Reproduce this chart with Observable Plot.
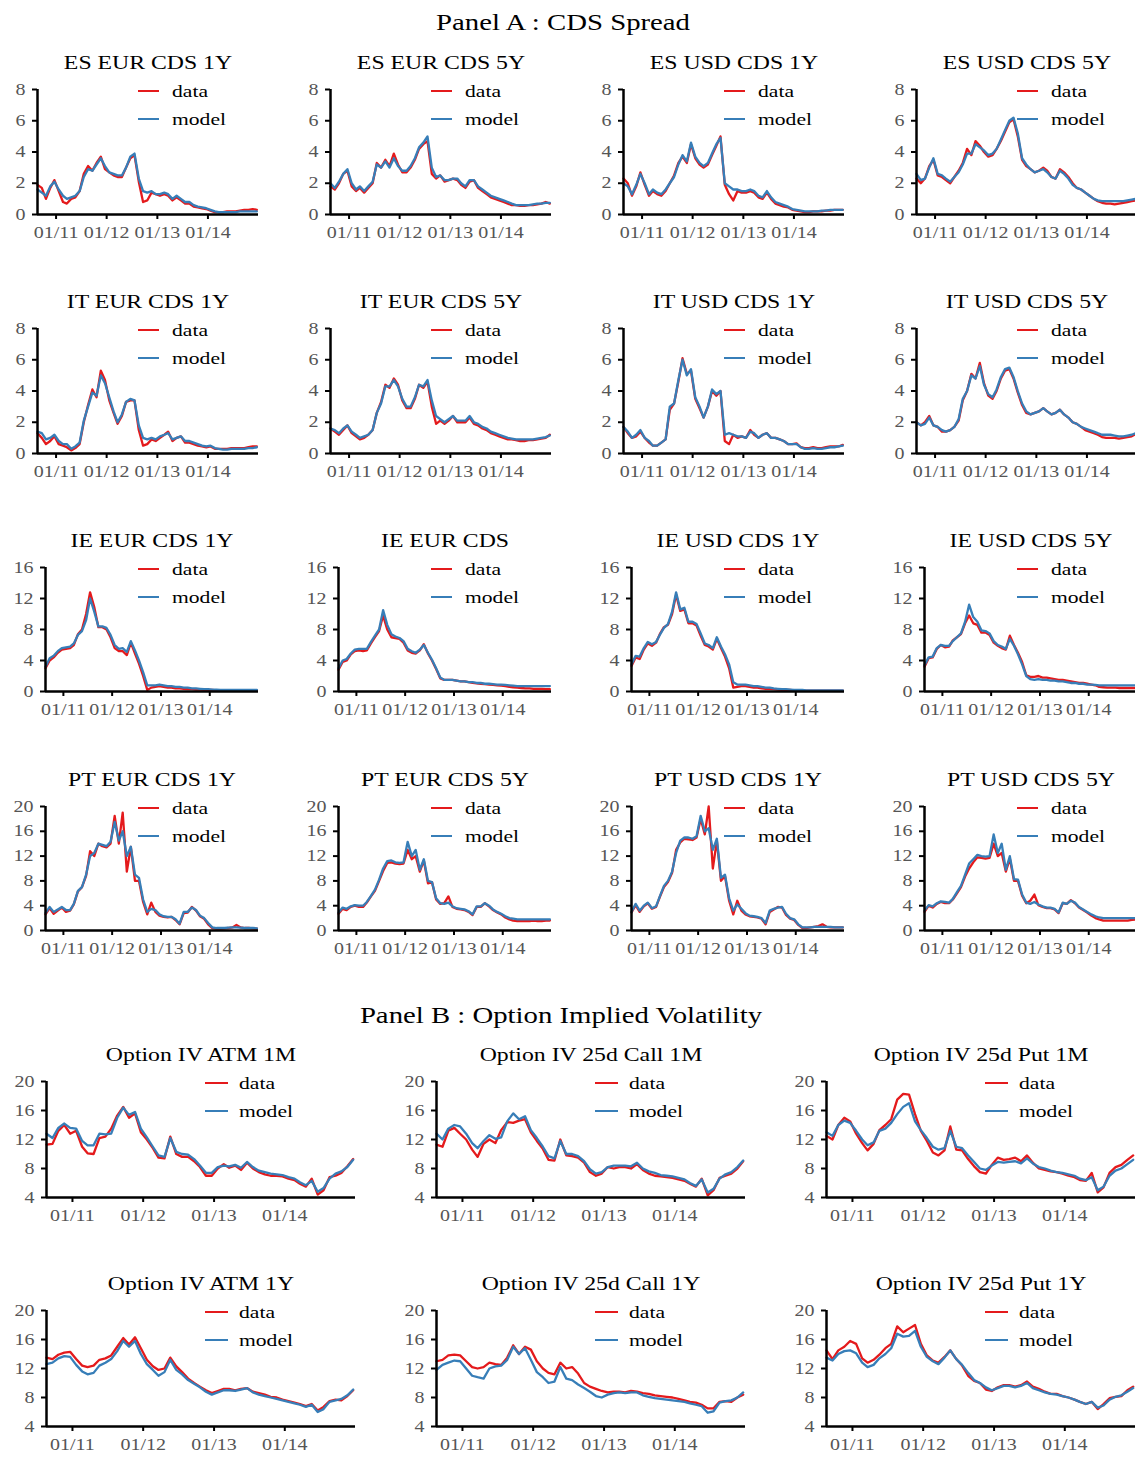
<!DOCTYPE html>
<html>
<head>
<meta charset="utf-8">
<script src="https://cdn.jsdelivr.net/npm/d3@7"></script>
<script src="https://cdn.jsdelivr.net/npm/@observablehq/plot@0.6"></script>
<style>
  body { margin: 0; background: #fff; }
  #fig { position: relative; width: 1135px; height: 1457px; overflow: hidden;
         font-family: "Liberation Serif", "Times New Roman", serif; background: #fff; }
  .t { position: absolute; white-space: nowrap; line-height: 1; color: #000; }
  .seg { position: absolute; height: 2.5px; }
</style>
</head>
<body>
<div id="fig"></div>
<script>
// ---------- categories / labels ----------
const mainTitles = ["Panel A : CDS Spread", "Panel B : Option Implied Volatility"];
const cdsTitles = [
  ["ES EUR CDS 1Y", "ES EUR CDS 5Y", "ES USD CDS 1Y", "ES USD CDS 5Y"],
  ["IT EUR CDS 1Y", "IT EUR CDS 5Y", "IT USD CDS 1Y", "IT USD CDS 5Y"],
  ["IE EUR CDS 1Y", "IE EUR CDS", "IE USD CDS 1Y", "IE USD CDS 5Y"],
  ["PT EUR CDS 1Y", "PT EUR CDS 5Y", "PT USD CDS 1Y", "PT USD CDS 5Y"]
];
const ivTitles = [
  ["Option IV ATM 1M", "Option IV 25d Call 1M", "Option IV 25d Put 1M"],
  ["Option IV ATM 1Y", "Option IV 25d Call 1Y", "Option IV 25d Put 1Y"]
];
const legendLabels = ["data", "model"];
const xTickLabels = ["01/11", "01/12", "01/13", "01/14"];
const xTickYears = [2011, 2012, 2013, 2014];
const cdsYTicks = [[0, 2, 4, 6, 8], [0, 2, 4, 6, 8], [0, 4, 8, 12, 16], [0, 4, 8, 12, 16, 20]];
const ivYTicks = [4, 8, 12, 16, 20];

// monthly observations, Aug-2010 ... Dec-2014 (53 points)
// ---------- Panel A : CDS spreads ----------
const esEur1yData  = [1.9,1.7,1.0,1.7,2.2,1.5,0.8,0.7,1.0,1.1, 1.5,2.6,3.1,2.8,3.3,3.7,2.9,2.7,2.5,2.4, 2.4,3.0,3.6,3.8,2.1,0.8,0.9,1.4,1.3,1.2, 1.3,1.2,0.9,1.1,0.9,0.7,0.7,0.5,0.45,0.4, 0.35,0.25,0.15,0.15,0.15,0.2,0.2,0.2,0.25,0.3, 0.3,0.35,0.3];
const esEur1yModel = [1.6,1.4,1.2,1.8,2.1,1.6,1.2,1.0,1.1,1.2, 1.5,2.4,2.9,2.8,3.2,3.6,3.1,2.7,2.6,2.5, 2.5,3.0,3.7,3.9,2.3,1.5,1.4,1.5,1.3,1.3, 1.4,1.3,1.0,1.2,1.0,0.8,0.8,0.6,0.5,0.45, 0.4,0.3,0.2,0.15,0.15,0.15,0.15,0.15,0.2,0.2, 0.2,0.2,0.2];
const esEur5yData  = [1.8,1.6,2.0,2.6,2.8,1.8,1.5,1.7,1.4,1.7, 2.0,3.3,3.0,3.5,3.1,3.9,3.2,2.7,2.7,3.0, 3.5,4.2,4.5,4.7,2.6,2.3,2.5,2.1,2.2,2.3, 2.2,1.9,1.7,2.1,2.2,1.7,1.5,1.3,1.1,1.0, 0.9,0.8,0.7,0.6,0.6,0.55,0.55,0.6,0.6,0.65, 0.7,0.8,0.7];
const esEur5yModel = [2.0,1.7,2.1,2.6,2.9,2.0,1.6,1.8,1.5,1.8, 2.1,3.2,3.0,3.4,3.0,3.6,3.1,2.8,2.8,3.1, 3.6,4.3,4.6,5.0,3.0,2.4,2.5,2.2,2.2,2.3, 2.3,2.0,1.8,2.2,2.2,1.8,1.6,1.4,1.2,1.1, 1.0,0.9,0.8,0.7,0.6,0.6,0.6,0.6,0.65,0.7, 0.7,0.75,0.75];
const esUsd1yData  = [2.3,2.0,1.2,1.8,2.7,1.9,1.2,1.5,1.3,1.2, 1.5,2.0,2.5,3.3,3.7,3.3,4.5,3.6,3.2,3.0, 3.2,3.8,4.4,5.0,1.9,1.3,0.9,1.5,1.4,1.4, 1.5,1.4,1.1,1.0,1.4,1.0,0.7,0.6,0.5,0.45, 0.3,0.25,0.2,0.15,0.15,0.2,0.2,0.2,0.25,0.25, 0.3,0.3,0.3];
const esUsd1yModel = [2.0,1.8,1.3,1.9,2.6,2.0,1.3,1.6,1.4,1.3, 1.6,2.0,2.4,3.2,3.8,3.4,4.6,3.7,3.3,3.1, 3.3,3.9,4.5,4.9,2.0,1.8,1.6,1.6,1.5,1.5, 1.6,1.5,1.2,1.1,1.5,1.1,0.8,0.7,0.6,0.5, 0.35,0.3,0.25,0.2,0.2,0.2,0.2,0.25,0.25,0.3, 0.3,0.3,0.3];
const esUsd5yData  = [2.3,2.0,2.3,3.1,3.5,2.5,2.4,2.2,2.0,2.4, 2.8,3.3,4.2,3.8,4.7,4.4,4.0,3.7,3.8,4.2, 4.7,5.3,5.9,6.1,5.0,3.5,3.1,2.9,2.7,2.8, 3.0,2.8,2.4,2.3,2.9,2.7,2.4,2.0,1.7,1.6, 1.4,1.2,1.0,0.85,0.75,0.7,0.7,0.65,0.7,0.75, 0.8,0.85,0.9];
const esUsd5yModel = [2.6,2.2,2.3,3.0,3.6,2.6,2.5,2.3,2.1,2.4, 2.7,3.2,3.9,3.9,4.5,4.3,4.1,3.8,3.9,4.2, 4.8,5.4,6.0,6.2,5.2,3.6,3.2,2.9,2.7,2.8, 2.9,2.7,2.4,2.3,2.8,2.6,2.3,1.9,1.7,1.6, 1.4,1.2,1.0,0.9,0.85,0.85,0.85,0.85,0.85,0.85, 0.9,0.95,1.0];

const itEur1yData  = [1.3,1.0,0.6,0.8,1.1,0.6,0.5,0.4,0.2,0.35, 0.6,2.0,3.1,4.1,3.6,5.3,4.7,3.4,2.6,1.9, 2.4,3.3,3.4,3.4,1.5,0.5,0.6,0.9,0.8,1.0, 1.2,1.4,0.8,1.0,1.1,0.7,0.7,0.6,0.5,0.45, 0.4,0.45,0.3,0.3,0.3,0.3,0.35,0.35,0.35,0.35, 0.4,0.45,0.45];
const itEur1yModel = [1.4,1.3,0.9,1.0,1.2,0.8,0.6,0.6,0.3,0.45, 0.7,2.1,3.0,3.9,3.7,5.0,4.5,3.6,2.7,2.0, 2.5,3.3,3.5,3.4,1.8,1.0,0.9,1.0,0.9,1.1, 1.2,1.3,0.9,1.0,1.1,0.8,0.8,0.7,0.6,0.5, 0.45,0.5,0.35,0.3,0.25,0.25,0.3,0.3,0.3,0.3, 0.35,0.35,0.4];
const itEur5yData  = [1.6,1.4,1.2,1.5,1.8,1.3,1.1,0.9,1.0,1.2, 1.5,2.6,3.3,4.4,4.2,4.8,4.4,3.4,2.9,2.9, 3.5,4.4,4.2,4.6,3.0,1.9,2.1,1.9,2.1,2.4, 2.0,2.0,2.0,2.3,1.9,1.8,1.6,1.5,1.3,1.2, 1.1,1.0,0.9,0.9,0.85,0.8,0.8,0.85,0.85,0.9, 0.95,1.0,1.2];
const itEur5yModel = [1.6,1.5,1.3,1.6,1.8,1.4,1.2,1.0,1.1,1.2, 1.5,2.6,3.2,4.3,4.3,4.7,4.3,3.5,3.0,3.0, 3.6,4.4,4.3,4.7,3.4,2.4,2.2,2.0,2.2,2.4, 2.1,2.1,2.1,2.4,2.0,1.9,1.7,1.6,1.4,1.3, 1.2,1.1,1.0,0.95,0.9,0.9,0.9,0.9,0.9,0.95, 1.0,1.05,1.15];
const itUsd1yData  = [1.7,1.3,1.0,1.1,1.4,1.0,0.7,0.5,0.5,0.7, 0.9,2.8,3.2,4.6,6.1,5.1,5.3,3.5,2.9,2.3, 3.0,4.0,3.7,4.0,0.8,0.6,1.2,1.0,1.1,1.0, 1.5,1.2,1.0,1.2,1.3,1.0,1.0,0.9,0.8,0.6, 0.6,0.65,0.4,0.35,0.35,0.4,0.35,0.35,0.4,0.45, 0.45,0.45,0.55];
const itUsd1yModel = [1.7,1.4,1.0,1.2,1.5,1.0,0.8,0.5,0.5,0.7, 0.9,3.0,3.2,4.7,6.0,5.0,5.4,3.6,3.0,2.3, 3.0,4.1,3.8,4.0,1.2,1.3,1.2,1.1,1.1,1.0, 1.4,1.3,1.0,1.2,1.3,1.0,1.0,0.9,0.8,0.6, 0.6,0.6,0.4,0.3,0.3,0.35,0.3,0.3,0.35,0.4, 0.4,0.45,0.5];
const itUsd5yData  = [2.0,1.8,2.0,2.4,1.8,1.7,1.4,1.4,1.5,1.7, 2.1,3.4,4.0,5.1,4.8,5.8,4.5,3.7,3.5,4.0, 4.8,5.3,5.4,4.8,3.9,3.1,2.6,2.5,2.6,2.7, 2.9,2.7,2.5,2.6,2.8,2.5,2.3,2.0,1.9,1.7, 1.5,1.4,1.3,1.2,1.05,1.0,1.0,1.0,0.95,1.0, 1.05,1.1,1.25];
const itUsd5yModel = [2.0,1.8,1.9,2.3,1.8,1.7,1.5,1.4,1.5,1.7, 2.2,3.5,4.0,5.0,4.8,5.6,4.4,3.8,3.6,4.1, 4.9,5.4,5.5,4.9,4.0,3.2,2.7,2.5,2.6,2.7, 2.9,2.7,2.5,2.6,2.8,2.5,2.3,2.0,1.9,1.7, 1.6,1.5,1.4,1.3,1.2,1.2,1.2,1.15,1.1,1.1, 1.15,1.2,1.3];

const ieEur1yData  = [3.0,4.0,4.4,5.0,5.4,5.5,5.6,6.0,7.4,8.0, 10.0,12.8,10.9,8.3,8.3,8.0,7.0,5.6,5.2,5.2, 4.7,6.3,4.9,3.6,2.0,0.2,0.5,0.6,0.7,0.6, 0.5,0.5,0.4,0.4,0.35,0.3,0.3,0.25,0.25,0.2, 0.2,0.2,0.15,0.15,0.15,0.15,0.15,0.15,0.15,0.15, 0.15,0.15,0.15];
const ieEur1yModel = [3.2,4.3,4.6,5.2,5.6,5.7,5.8,6.2,7.3,7.8, 9.2,12.0,10.3,8.4,8.4,8.2,7.3,6.0,5.5,5.6, 5.1,6.5,5.3,4.0,2.5,0.8,0.8,0.8,0.9,0.8, 0.7,0.7,0.6,0.6,0.5,0.5,0.4,0.4,0.35,0.3, 0.3,0.25,0.25,0.2,0.2,0.2,0.2,0.2,0.2,0.2, 0.2,0.2,0.2];
const ieEur5yData  = [2.8,3.8,4.0,4.8,5.2,5.3,5.2,5.3,6.2,7.0, 7.8,9.8,8.0,7.0,6.9,6.8,6.3,5.3,5.0,4.9, 5.3,6.1,4.9,4.0,2.9,1.7,1.5,1.5,1.5,1.4, 1.3,1.3,1.2,1.1,1.05,1.0,0.95,0.9,0.85,0.8, 0.75,0.7,0.6,0.55,0.5,0.45,0.4,0.4,0.35,0.35, 0.35,0.3,0.3];
const ieEur5yModel = [3.0,4.0,4.2,4.9,5.4,5.5,5.5,5.5,6.4,7.2, 8.0,10.5,8.6,7.4,7.1,6.9,6.5,5.5,5.2,5.0, 5.4,6.0,5.0,4.1,3.0,1.8,1.5,1.5,1.5,1.4, 1.3,1.3,1.2,1.2,1.1,1.1,1.0,1.0,0.95,0.9, 0.9,0.85,0.8,0.75,0.7,0.7,0.7,0.7,0.7,0.7, 0.7,0.7,0.7];
const ieUsd1yData  = [3.3,4.4,4.2,5.4,6.2,5.9,6.3,7.4,8.3,8.6, 10.0,12.5,10.4,10.6,8.8,8.8,8.5,7.2,6.0,5.8, 5.4,6.8,5.6,4.5,3.0,0.5,0.6,0.7,0.7,0.6, 0.5,0.5,0.4,0.35,0.35,0.3,0.25,0.2,0.2,0.2, 0.15,0.15,0.15,0.1,0.1,0.1,0.1,0.1,0.1,0.1, 0.1,0.1,0.1];
const ieUsd1yModel = [3.5,4.6,4.5,5.6,6.4,6.1,6.4,7.3,8.2,8.7, 10.3,12.8,10.6,10.8,9.0,9.0,8.7,7.5,6.2,6.0, 5.6,7.0,5.8,4.8,3.5,1.2,0.9,0.9,0.9,0.8, 0.7,0.7,0.6,0.5,0.5,0.4,0.35,0.3,0.3,0.25, 0.2,0.2,0.2,0.15,0.15,0.15,0.15,0.15,0.15,0.15, 0.15,0.15,0.15];
const ieUsd5yData  = [3.2,4.3,4.4,5.5,6.0,5.7,5.8,6.6,7.0,7.4, 8.8,9.8,8.8,8.6,7.6,7.6,7.3,6.3,5.9,5.6, 5.4,7.2,6.0,5.0,3.8,2.1,1.9,1.9,2.0,1.8, 1.8,1.7,1.6,1.5,1.5,1.4,1.3,1.2,1.1,1.1, 1.0,0.9,0.8,0.6,0.55,0.5,0.5,0.5,0.45,0.45, 0.45,0.45,0.45];
const ieUsd5yModel = [3.4,4.4,4.5,5.6,6.0,5.9,5.9,6.5,7.0,7.5, 9.0,11.2,9.6,9.0,7.9,7.8,7.5,6.5,6.0,5.8, 5.5,6.8,5.9,4.8,3.5,2.0,1.6,1.5,1.6,1.5, 1.5,1.4,1.4,1.3,1.3,1.2,1.1,1.1,1.0,1.0, 0.9,0.9,0.85,0.8,0.8,0.8,0.8,0.8,0.8,0.8, 0.8,0.8,0.8];

const ptEur1yData  = [2.6,3.6,2.7,3.2,3.7,3.0,3.2,4.2,6.3,7.0, 8.8,12.8,12.0,14.0,13.6,13.4,14.0,18.5,14.0,19.0, 9.5,13.5,8.0,8.0,4.6,2.6,4.5,3.0,2.4,2.2, 2.1,2.2,1.7,1.0,2.8,2.9,3.8,3.2,2.3,1.9, 1.0,0.4,0.3,0.3,0.35,0.4,0.5,0.9,0.5,0.4, 0.4,0.35,0.3];
const ptEur1yModel = [2.8,3.8,3.0,3.4,3.8,3.3,3.3,4.3,6.4,7.0, 9.0,12.0,12.5,14.0,13.8,13.6,14.3,17.5,14.5,16.0, 12.0,13.5,9.0,8.5,5.0,3.0,3.5,3.3,2.6,2.3, 2.2,2.2,1.8,1.1,3.0,3.0,3.7,3.3,2.4,2.0, 1.2,0.5,0.4,0.4,0.4,0.45,0.5,0.5,0.45,0.4, 0.4,0.4,0.35];
const ptEur5yData  = [2.7,3.5,3.3,3.8,4.0,3.8,3.8,4.5,5.5,6.4, 8.0,9.6,10.9,11.0,10.8,10.7,10.8,13.0,11.5,12.0, 9.5,11.3,7.6,7.8,5.0,4.3,4.4,5.5,3.8,3.5, 3.4,3.3,3.0,2.5,3.8,3.8,4.4,3.9,3.3,2.9, 2.6,2.1,1.8,1.6,1.5,1.5,1.5,1.5,1.6,1.5, 1.5,1.6,1.6];
const ptEur5yModel = [2.9,3.7,3.5,3.9,4.1,4.0,4.0,4.6,5.6,6.6, 8.2,10.0,11.2,11.3,11.0,10.9,11.0,14.3,12.0,13.0, 9.8,11.5,8.0,7.8,5.2,4.4,4.3,4.5,3.9,3.6, 3.5,3.4,3.1,2.6,3.9,3.9,4.4,4.0,3.4,3.0, 2.7,2.3,2.0,1.9,1.8,1.8,1.8,1.8,1.8,1.8, 1.8,1.8,1.8];
const ptUsd1yData  = [2.9,4.1,3.0,3.9,4.4,3.5,3.8,5.4,7.0,7.8, 9.3,13.0,14.2,14.8,14.7,14.6,15.0,18.0,15.5,20.0, 10.0,14.5,8.0,8.8,4.8,2.6,4.8,3.2,2.6,2.3, 2.2,2.1,1.9,1.0,3.0,3.4,3.8,3.7,2.5,1.9, 1.7,0.9,0.4,0.4,0.5,0.6,0.7,1.0,0.6,0.5, 0.5,0.5,0.5];
const ptUsd1yModel = [3.0,4.3,3.2,4.0,4.5,3.6,3.9,5.5,7.2,8.0, 9.5,12.5,14.5,15.0,15.0,14.8,15.2,18.5,16.0,16.5, 13.0,14.8,8.5,9.0,5.2,3.2,4.2,3.5,2.8,2.4, 2.3,2.2,2.0,1.2,3.2,3.5,3.7,3.8,2.7,2.0, 1.8,1.0,0.5,0.5,0.5,0.6,0.6,0.6,0.6,0.6, 0.5,0.5,0.5];
const ptUsd5yData  = [3.0,4.0,3.7,4.3,4.6,4.4,4.4,5.0,6.0,7.0, 8.7,10.0,11.0,11.8,11.7,11.6,11.7,14.0,12.0,12.5, 9.5,11.6,8.0,8.0,5.6,4.4,4.8,5.8,4.1,3.8, 3.6,3.6,3.4,2.8,4.4,4.3,4.9,4.4,3.7,3.3, 2.9,2.4,2.0,1.8,1.6,1.6,1.6,1.6,1.6,1.6, 1.6,1.7,1.8];
const ptUsd5yModel = [3.2,4.1,3.9,4.4,4.7,4.6,4.5,5.1,6.2,7.2, 9.0,10.8,11.5,12.2,12.0,11.9,12.0,15.5,12.5,14.0, 9.8,12.0,8.3,8.2,5.8,4.5,4.3,4.6,4.2,3.9, 3.7,3.7,3.5,2.9,4.5,4.3,4.8,4.5,3.8,3.4, 3.0,2.6,2.3,2.1,2.0,2.0,2.0,2.0,2.0,2.0, 2.0,2.0,2.0];

// ---------- Panel B : option implied volatility ----------
const atm1mData   = [11.3,11.4,13.2,14.0,12.8,13.2,11.0,10.1,10.0,12.2, 12.4,13.5,15.3,16.5,15.0,15.6,13.0,12.0,10.8,9.5, 9.4,12.4,10.0,9.6,9.6,9.0,8.2,7.0,7.0,8.0, 8.6,8.1,8.4,7.8,8.8,8.0,7.5,7.2,7.0,7.0, 6.9,6.6,6.4,5.9,5.5,6.6,4.4,5.0,6.8,7.0, 7.4,8.3,9.3];
const atm1mModel  = [12.8,12.2,13.6,14.2,13.6,13.5,11.8,11.2,11.2,12.8, 12.7,12.8,15.0,16.4,15.4,15.8,13.5,12.3,11.0,9.8, 9.6,12.2,10.3,10.0,9.9,9.3,8.4,7.4,7.4,8.2, 8.4,8.3,8.5,8.1,8.9,8.2,7.7,7.5,7.3,7.2, 7.1,6.8,6.6,6.1,5.7,6.3,4.8,5.3,6.6,7.3, 7.6,8.2,9.2];
const call1mData  = [11.3,11.0,13.2,13.6,12.8,12.0,10.6,9.6,11.4,12.0, 11.5,13.3,14.4,14.3,14.6,14.8,13.0,11.8,10.7,9.2, 9.1,12.0,9.8,9.7,9.5,8.8,7.5,7.0,7.3,8.2, 8.0,8.2,8.2,8.0,8.6,7.8,7.3,7.0,6.9,6.8, 6.7,6.5,6.3,5.9,5.5,6.6,4.3,5.0,6.7,7.0, 7.3,8.0,9.0];
const call1mModel = [12.8,12.0,13.5,14.0,13.8,12.8,11.5,10.8,11.8,12.6, 12.1,12.3,14.5,15.6,14.8,15.2,13.3,12.2,11.0,9.7, 9.4,11.8,10.0,10.0,9.7,9.0,7.9,7.3,7.5,8.2, 8.4,8.4,8.4,8.3,8.8,8.0,7.6,7.4,7.1,7.0, 6.9,6.7,6.5,6.0,5.6,6.5,4.7,5.2,6.6,7.2, 7.5,8.2,9.1];
const put1mData   = [12.5,12.0,14.0,15.0,14.5,12.8,11.5,10.5,11.4,13.3, 14.0,14.8,17.5,18.3,18.2,15.5,13.2,11.8,10.2,9.8, 10.5,13.8,10.6,10.5,9.3,8.3,7.5,7.3,8.5,9.5, 9.2,9.3,9.5,9.0,9.8,8.8,8.0,7.8,7.6,7.5, 7.3,7.0,6.8,6.4,6.3,7.4,4.7,5.4,7.4,8.2, 8.5,9.2,9.8];
const put1mModel  = [13.0,12.5,14.0,14.6,14.3,13.2,12.0,11.2,11.6,13.2, 13.5,14.3,15.5,16.5,17.0,14.5,13.3,12.2,11.0,10.6, 10.8,13.2,11.0,10.8,9.8,8.9,8.0,7.8,8.4,8.9, 8.8,8.9,9.0,8.7,9.4,8.7,8.2,8.0,7.7,7.5, 7.4,7.2,7.0,6.6,6.4,6.8,5.0,5.5,7.0,7.7, 8.0,8.6,9.2];
const atm1yData   = [13.5,13.3,13.9,14.2,14.3,13.3,12.4,12.2,12.4,13.2, 13.4,13.8,15.0,16.2,15.3,16.3,14.8,13.2,12.3,11.8, 12.0,13.5,12.3,11.5,10.6,10.0,9.5,9.0,8.6,8.9, 9.2,9.2,9.0,9.2,9.3,8.8,8.6,8.4,8.1,8.0, 7.7,7.5,7.3,7.1,6.8,7.1,6.2,6.7,7.5,7.7, 7.6,8.2,9.0];
const atm1yModel  = [12.6,12.8,13.4,13.7,13.6,12.5,11.6,11.2,11.4,12.4, 12.8,13.3,14.4,15.8,15.0,15.8,14.0,12.6,11.8,11.0, 11.5,13.2,11.8,11.2,10.4,9.9,9.4,8.8,8.4,8.7, 9.0,9.0,8.9,9.1,9.3,8.7,8.4,8.2,8.0,7.8, 7.6,7.4,7.2,7.0,6.7,7.0,6.0,6.4,7.4,7.6, 7.8,8.3,9.1];
const call1yData  = [13.0,13.2,13.8,13.9,13.8,13.0,12.2,12.0,12.2,12.8, 12.6,12.5,13.5,15.2,14.0,15.0,14.6,13.0,12.0,11.4, 11.2,12.8,12.0,12.2,11.3,10.0,9.5,9.2,8.9,8.7, 8.8,8.8,8.7,8.9,8.8,8.6,8.5,8.3,8.2,8.1, 8.0,7.8,7.6,7.4,7.3,7.0,6.5,6.5,7.4,7.5, 7.4,8.0,8.4];
const call1yModel = [11.8,12.5,12.8,13.1,13.0,12.0,11.0,10.8,10.6,12.0, 12.3,12.4,13.2,15.0,14.0,14.8,13.2,11.5,10.8,10.0, 10.2,12.2,10.6,10.4,9.8,9.3,8.8,8.2,8.0,8.4, 8.6,8.7,8.6,8.7,8.7,8.3,8.1,7.9,7.8,7.7, 7.6,7.5,7.4,7.2,7.0,6.8,5.9,6.1,7.3,7.5, 7.6,8.0,8.7];
const put1yData   = [14.5,13.3,14.5,15.0,15.8,15.4,13.4,12.8,13.2,13.9, 14.8,15.4,17.8,17.0,17.5,18.0,15.4,13.8,13.1,12.8, 13.6,14.5,13.3,12.4,11.0,10.3,10.0,9.1,8.9,9.4, 9.7,9.7,9.5,9.7,10.2,9.5,9.2,8.8,8.5,8.5, 8.2,8.0,7.7,7.4,7.1,7.4,6.4,7.1,7.9,8.1, 8.2,9.0,9.5];
const put1yModel  = [13.5,13.1,14.0,14.4,14.5,14.1,12.8,12.2,12.5,13.4, 14.0,14.8,16.8,16.4,16.5,17.2,15.0,13.6,13.0,12.6, 13.5,14.5,13.3,12.5,11.4,10.4,10.0,9.4,9.0,9.3, 9.6,9.6,9.4,9.6,10.0,9.3,9.0,8.7,8.5,8.4, 8.2,8.0,7.7,7.4,7.1,7.4,6.6,6.9,7.7,8.1, 8.3,8.8,9.3];

// ---------- tables built from the arrays ----------
const cdsSeries = [
  [[esEur1yData, esEur1yModel], [esEur5yData, esEur5yModel], [esUsd1yData, esUsd1yModel], [esUsd5yData, esUsd5yModel]],
  [[itEur1yData, itEur1yModel], [itEur5yData, itEur5yModel], [itUsd1yData, itUsd1yModel], [itUsd5yData, itUsd5yModel]],
  [[ieEur1yData, ieEur1yModel], [ieEur5yData, ieEur5yModel], [ieUsd1yData, ieUsd1yModel], [ieUsd5yData, ieUsd5yModel]],
  [[ptEur1yData, ptEur1yModel], [ptEur5yData, ptEur5yModel], [ptUsd1yData, ptUsd1yModel], [ptUsd5yData, ptUsd5yModel]]
];
const ivSeries = [
  [[atm1mData, atm1mModel], [call1mData, call1mModel], [put1mData, put1mModel]],
  [[atm1yData, atm1yModel], [call1yData, call1yModel], [put1yData, put1yModel]]
];

const RED = "#e41a1c", BLUE = "#377eb8";
const FONT = '"Liberation Serif", "Times New Roman", serif';
const SX = 1.25; // horizontal stretch of the reference's lettering
const xStart = new Date(Date.UTC(2010, 7, 20));
const xEnd = new Date(Date.UTC(2015, 0, 1));
const dates = d3.range(53).map(k => d3.utcMonth.offset(xStart, k));
const xTickDates = xTickYears.map(y => new Date(Date.UTC(y, 0, 1)));

const fig = document.getElementById("fig");

function addText(str, cx, cy, size) {
  const d = document.createElement("div");
  d.className = "t";
  d.textContent = str;
  d.style.left = cx + "px";
  d.style.top = cy + "px";
  d.style.fontSize = size + "px";
  d.style.transform = `translate(-50%,-50%) scaleX(${SX})`;
  fig.appendChild(d);
}

function addLegend(R, T, segOff, segW, textOff) {
  [RED, BLUE].forEach((c, i) => {
    const yy = T + 2 + i * 28;
    const s = document.createElement("div");
    s.className = "seg";
    s.style.background = c;
    s.style.left = (R - segOff) + "px";
    s.style.width = segW + "px";
    s.style.top = (yy - 1.25) + "px";
    fig.appendChild(s);
    const t = document.createElement("div");
    t.className = "t";
    t.textContent = legendLabels[i];
    t.style.left = (R - textOff) + "px";
    t.style.top = yy + "px";
    t.style.fontSize = "17px";
    t.style.transformOrigin = "0 50%";
    t.style.transform = `translateY(-50%) scaleX(1.27)`;
    fig.appendChild(t);
  });
}

function drawPanel(title, series, yTicks, L, R, T, B, leg) {
  const ml = 44, mr = 4, mt = 12, mb = 36;
  const [dataArr, modelArr] = series;
  const rows = dates.map((d, i) => ({date: d, data: dataArr[i], model: modelArr[i]}));
  const y0 = yTicks[0], y1 = yTicks[yTicks.length - 1];
  const svg = Plot.plot({
    width: R - L + ml + mr,
    height: B - T + mt + mb,
    marginLeft: ml, marginRight: mr, marginTop: mt, marginBottom: mb,
    x: {type: "utc", domain: [xStart, xEnd]},
    y: {domain: [y0, y1]},
    style: {fontFamily: FONT, fontSize: "16px", background: "transparent", overflow: "visible"},
    marks: [
      Plot.line(rows, {x: "date", y: "data", stroke: RED, strokeWidth: 2.3}),
      Plot.line(rows, {x: "date", y: "model", stroke: BLUE, strokeWidth: 2.3}),
      Plot.axisY({ticks: yTicks, tickSize: 5, tickPadding: 7, stroke: "#000", strokeWidth: 2,
                  fill: "#555", label: null, tickFormat: d => String(d)}),
      Plot.axisX({ticks: xTickDates, tickSize: 5, tickPadding: 7, stroke: "#000", strokeWidth: 2,
                  fill: "#555", label: null,
                  tickFormat: d => xTickLabels[xTickDates.findIndex(t => +t === +d)]}),
      Plot.ruleX([xStart], {stroke: "#000", strokeWidth: 2.5}),
      Plot.ruleY([y0], {stroke: "#000", strokeWidth: 2.5})
    ]
  });
  svg.style.position = "absolute";
  svg.style.left = (L - ml) + "px";
  svg.style.top = (T - mt) + "px";
  svg.querySelectorAll("text").forEach(t => {
    const tr = t.getAttribute("transform");
    if (tr) t.setAttribute("transform", tr + ` scale(${SX},1)`);
  });
  fig.appendChild(svg);
  addText(title, (L + R) / 2, T - 27, 19);
  addLegend(R, T, leg[0], leg[1], leg[2]);
}

// main titles
addText(mainTitles[0], 563, 22, 23);
addText(mainTitles[1], 561, 1015, 23);

// Panel A grid
const cdsRowTop = [89, 328, 567, 806];
const cdsRowBottom = [214, 453, 691, 930];
const cdsRowLeft = [37, 37, 45, 45];
cdsTitles.forEach((row, r) => {
  row.forEach((title, c) => {
    const L = cdsRowLeft[r] + c * 293;
    const R = 258 + c * 293;
    drawPanel(title, cdsSeries[r][c], cdsYTicks[r], L, R, cdsRowTop[r], cdsRowBottom[r], [120, 21, 86]);
  });
});

// Panel B grid
const ivRowTop = [1081, 1310];
const ivRowBottom = [1197, 1426];
ivTitles.forEach((row, r) => {
  row.forEach((title, c) => {
    const L = 46 + c * 390;
    const R = 355 + c * 390;
    drawPanel(title, ivSeries[r][c], ivYTicks, L, R, ivRowTop[r], ivRowBottom[r], [150, 23, 116]);
  });
});
</script>
</body>
</html>
